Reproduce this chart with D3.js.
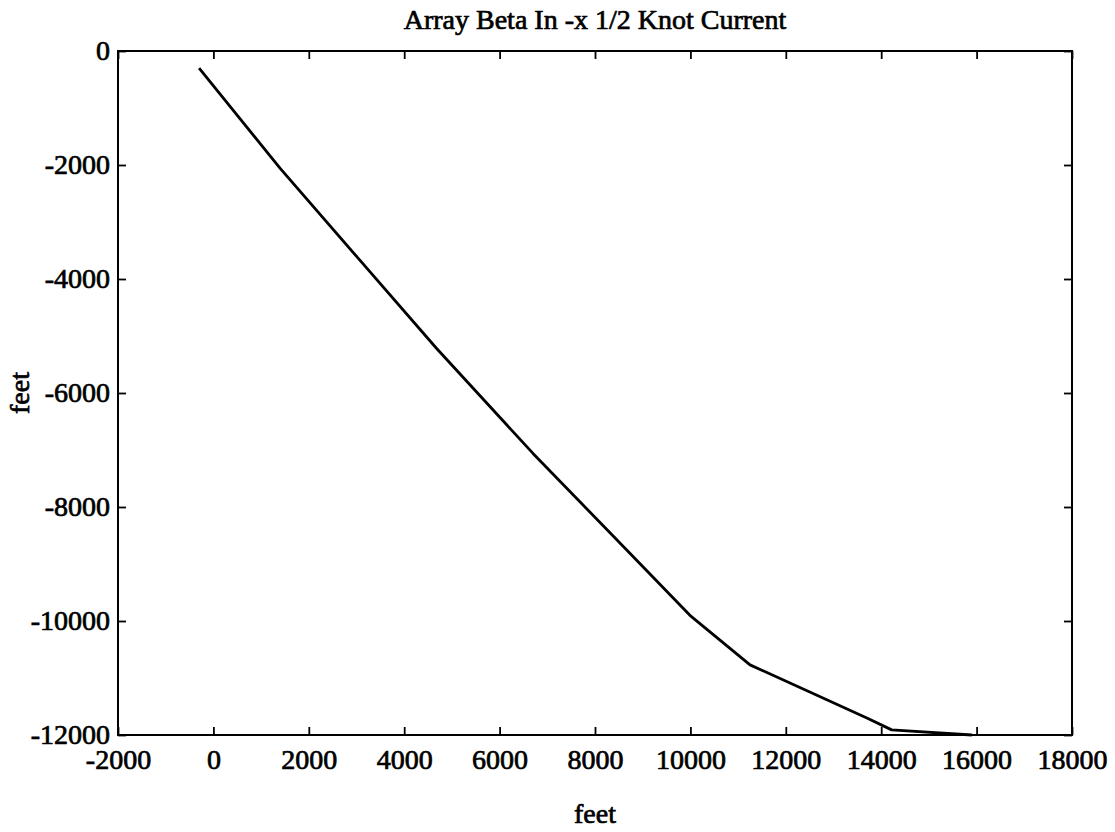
<!DOCTYPE html>
<html>
<head>
<meta charset="utf-8">
<script src="https://cdn.jsdelivr.net/npm/d3@7"></script>
<style>
  html, body { margin: 0; padding: 0; background: #fff; }
  svg { display: block; }
  text { font-family: "Liberation Serif", "DejaVu Serif", serif; fill: #000; }
</style>
</head>
<body>
<script>
// ---- data ----
const titleText = "Array Beta In -x 1/2 Knot Current";
const xLabelText = "feet";
const yLabelText = "feet";
const xTicks = [-2000, 0, 2000, 4000, 6000, 8000, 10000, 12000, 14000, 16000, 18000];
const yTicks = [0, -2000, -4000, -6000, -8000, -10000, -12000];
const pathX = [-300, 1400, 3070, 4680, 6700, 8660, 9990, 11250, 13700, 14220, 15900];
const pathY = [-300, -2060, -3670, -5220, -7060, -8750, -9900, -10770, -11700, -11910, -12000];

// ---- layout ----
const W = 1115, H = 832;
const mLeft = 118, mRight = 1072, mTop = 51, mBottom = 735;
const FS = 28, SW = 0.7;

const svg = d3.select("body").append("svg").attr("width", W).attr("height", H);
svg.append("rect").attr("width", W).attr("height", H).attr("fill", "#fff");

const x = d3.scaleLinear().domain([-2000, 18000]).range([mLeft, mRight]);
const y = d3.scaleLinear().domain([-12000, 0]).range([mBottom, mTop]);

const fmt = d => String(d);
const tickLen = 8;

function styleAxis(g) {
  g.select(".domain").remove();
  g.selectAll(".tick line").attr("stroke", "#000").attr("stroke-width", 1.8);
  g.selectAll(".tick text")
    .attr("font-size", FS)
    .attr("font-family", "Liberation Serif, serif")
    .attr("stroke", "#000").attr("stroke-width", SW);
}

// bottom axis with labels
const gB = svg.append("g").attr("transform", `translate(0,${mBottom})`)
  .call(d3.axisBottom(x).tickValues(xTicks).tickFormat(fmt).tickSizeInner(-tickLen).tickSizeOuter(0).tickPadding(0));
styleAxis(gB);
gB.selectAll(".tick text").attr("y", 34).attr("dy", 0);

// top axis, ticks only
const gT = svg.append("g").attr("transform", `translate(0,${mTop})`)
  .call(d3.axisTop(x).tickValues(xTicks).tickFormat("").tickSizeInner(-tickLen).tickSizeOuter(0));
styleAxis(gT);

// left axis with labels
const gL = svg.append("g").attr("transform", `translate(${mLeft},0)`)
  .call(d3.axisLeft(y).tickValues(yTicks).tickFormat(fmt).tickSizeInner(-tickLen).tickSizeOuter(0).tickPadding(0));
styleAxis(gL);
gL.selectAll(".tick text").attr("x", -8).attr("dy", "0.3em");

// right axis, ticks only
const gR = svg.append("g").attr("transform", `translate(${mRight},0)`)
  .call(d3.axisRight(y).tickValues(yTicks).tickFormat("").tickSizeInner(-tickLen).tickSizeOuter(0));
styleAxis(gR);

// frame
svg.append("rect")
  .attr("x", mLeft).attr("y", mTop)
  .attr("width", mRight - mLeft).attr("height", mBottom - mTop)
  .attr("fill", "none").attr("stroke", "#000").attr("stroke-width", 2);

// data line
const pts = pathX.map((v, i) => [v, pathY[i]]);
svg.append("path")
  .datum(pts)
  .attr("fill", "none")
  .attr("stroke", "#000")
  .attr("stroke-width", 2.8)
  .attr("stroke-linejoin", "round")
  .attr("d", d3.line().x(d => x(d[0])).y(d => y(d[1])));

// title
svg.append("text")
  .attr("x", (mLeft + mRight) / 2).attr("y", 29)
  .attr("text-anchor", "middle")
  .attr("font-size", FS)
  .attr("stroke", "#000").attr("stroke-width", SW)
  .text(titleText);

// x label
svg.append("text")
  .attr("x", (mLeft + mRight) / 2).attr("y", 823)
  .attr("text-anchor", "middle")
  .attr("font-size", FS)
  .attr("stroke", "#000").attr("stroke-width", SW)
  .text(xLabelText);

// y label
svg.append("text")
  .attr("transform", `translate(29,${(mTop + mBottom) / 2}) rotate(-90)`)
  .attr("text-anchor", "middle")
  .attr("font-size", FS)
  .attr("stroke", "#000").attr("stroke-width", SW)
  .text(yLabelText);
</script>
</body>
</html>
